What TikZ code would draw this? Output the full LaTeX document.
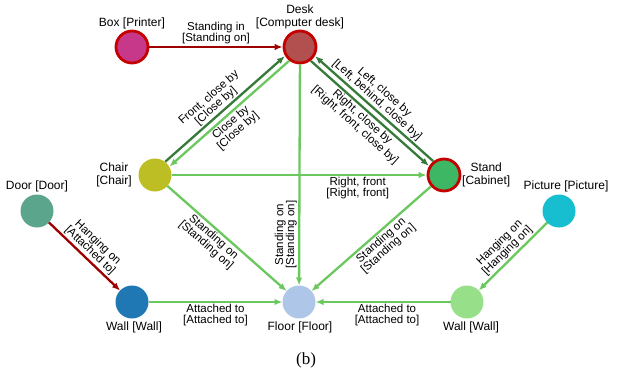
\documentclass[tikz,border=0pt]{standalone}
\usepackage{fontspec}
\setmainfont{Liberation Sans}
\newfontfamily\captionfont{Liberation Serif}
\usetikzlibrary{arrows.meta}

% node fills
\definecolor{cBox}{HTML}{C7388A}
\definecolor{cDesk}{HTML}{B24F4F}
\definecolor{cChair}{HTML}{BDBE24}
\definecolor{cDoor}{HTML}{5AA58B}
\definecolor{cWallA}{HTML}{1F77B4}
\definecolor{cFloor}{HTML}{AEC7E8}
\definecolor{cStand}{HTML}{3EB764}
\definecolor{cPicture}{HTML}{17BECF}
\definecolor{cWallB}{HTML}{98DF8A}
% rings and relation colours
\definecolor{ringRed}{HTML}{C40000}
\definecolor{relRed}{HTML}{9E0000}
\definecolor{relDark}{HTML}{357A38}
\definecolor{relLight}{HTML}{6AC85E}

\tikzset{
  obj/.style={circle, minimum size=33pt, inner sep=0pt, outer sep=0pt, fill=#1},
  hot/.style={circle, minimum size=32pt, inner sep=0pt, fill=#1,
              draw=ringRed, line width=2.8pt},
  objlabel/.style={font=\fontsize{12}{12.5}\selectfont, align=center, inner sep=0pt},
  rel/.style={line width=2.3pt, draw=#1,
              -{Latex[length=8pt,width=6.5pt]}},
  tag/.style={font=\fontsize{11.5}{11}\selectfont, align=center,
              inner sep=1.5pt, sloped},
}

\begin{document}
\begin{tikzpicture}[x=1pt,y=-1pt]
\useasboundingbox (0,0) rectangle (621,377);

% objects
\node[hot=cBox]      (box)     at (132,47)  {};
\node[hot=cDesk]     (desk)    at (300,47)  {};
\node[obj=cChair]    (chair)   at (155,175) {};
\node[hot=cStand]    (stand)   at (444,175) {};
\node[obj=cDoor]     (door)    at (37,211)  {};
\node[obj=cPicture]  (picture) at (559,211) {};
\node[obj=cWallA]    (wallA)   at (132,302) {};
\node[obj=cFloor]    (floor)   at (299,302) {};
\node[obj=cWallB]    (wallB)   at (467,302) {};

% object names
\node[objlabel] (boxN)     at (132,23)  {Box [Printer]};
\node[objlabel] (deskN)    at (300,17)  {Desk\\{[Computer desk]}};
\node[objlabel] (chairN)   at (114,175) {Chair\\{[Chair]}};
\node[objlabel, anchor=west] (standN) at (462,175) {Stand\\{[Cabinet]}};
\node[objlabel] (doorN)    at (37,186)  {Door [Door]};
\node[objlabel] (pictureN) at (566,186) {Picture [Picture]};
\node[objlabel] (wallAN)   at (134,327) {Wall [Wall]};
\node[objlabel] (floorN)   at (300,327) {Floor [Floor]};
\node[objlabel] (wallBN)   at (471,327) {Wall [Wall]};

% relations
\draw[rel=relRed] (box) -- node[tag, above] (t1) {Standing in\\{[Standing on]}} (desk);

\draw[rel=relDark, transform canvas={shift={(-2.1pt,2.4pt)}}]
  (chair) -- node[tag, above, pos=0.47] (t2) {Front, close by\\{[Close by]}} (desk);
\draw[rel=relLight, transform canvas={shift={(2.1pt,-2.4pt)}}]
  (desk) -- node[tag, below, pos=0.53] (t3) {Close by\\{[Close by]}} (chair);

\draw[rel=relDark, transform canvas={shift={(2.1pt,2.4pt)}}]
  (stand) -- node[tag, above, pos=0.52] (t4) {Left, close by\\{[Left, behind, close by]}} (desk);
\draw[rel=relDark, transform canvas={shift={(-2.1pt,-2.4pt)}}]
  (desk) -- node[tag, below, pos=0.48] (t5) {Right, close by\\{[Right, front, close by]}} (stand);

\draw[rel=relLight] (chair) -- node[tag, below, pos=0.73] (t6) {Right, front\\{[Right, front]}} (stand);
\draw[rel=relLight] (desk) -- node[tag, above, pos=0.77] (t7) {Standing on\\{[Standing on]}} (floor);
\draw[rel=relLight] (chair) -- node[tag, below, pos=0.43] (t8) {Standing on\\{[Standing on]}} (floor);
\draw[rel=relLight] (stand) -- node[tag, below, pos=0.46] (t9) {Standing on\\{[Standing on]}} (floor);

\draw[rel=relRed] (door) -- node[tag, above] (t10) {Hanging on\\{[Attached to]}} (wallA);
\draw[rel=relLight] (picture) -- node[tag, above] (t11) {Hanging on\\{[Hanging on]}} (wallB);

\draw[rel=relLight] (wallA) -- node[tag, below] (t12) {Attached to\\{[Attached to]}} (floor);
\draw[rel=relLight] (wallB) -- node[tag, below, pos=0.47] (t13) {Attached to\\{[Attached to]}} (floor);

% caption
\node[font=\captionfont\fontsize{17}{17}\selectfont, inner sep=0pt] (cap) at (306,360) {(b)};
\end{tikzpicture}
\end{document}
